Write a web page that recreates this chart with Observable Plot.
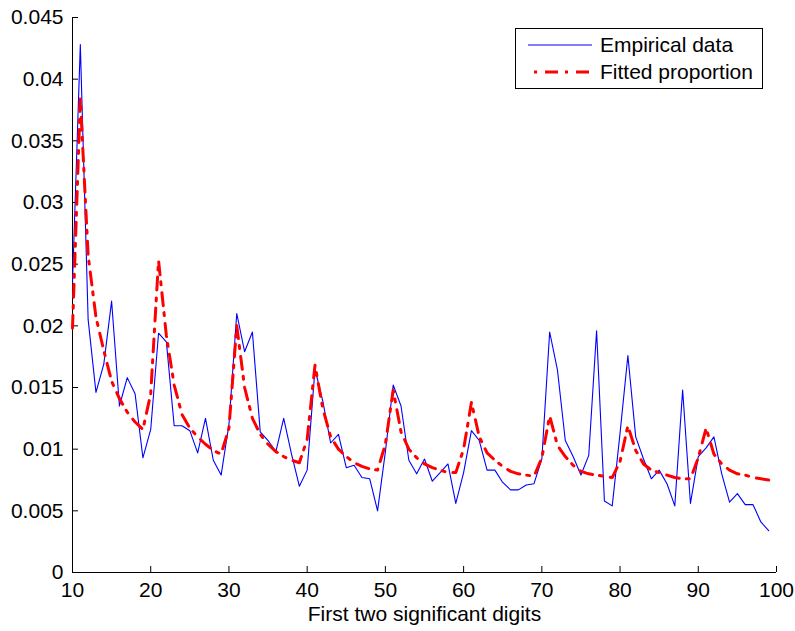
<!DOCTYPE html>
<html><head><meta charset="utf-8">
<script src="https://cdn.jsdelivr.net/npm/d3@7"></script>
<script src="https://cdn.jsdelivr.net/npm/@observablehq/plot@0.6"></script>
<style>
body{margin:0;background:#fff;}
#chart{width:795px;height:631px;}
</style>
</head><body><div id="chart"></div>
<script>
const digits = [10,11,12,13,14,15,16,17,18,19,20,21,22,23,24,25,26,27,28,29,30,31,32,33,34,35,36,37,38,39,40,41,42,43,44,45,46,47,48,49,50,51,52,53,54,55,56,57,58,59,60,61,62,63,64,65,66,67,68,69,70,71,72,73,74,75,76,77,78,79,80,81,82,83,84,85,86,87,88,89,90,91,92,93,94,95,96,97,98,99];
const empirical = [
0.0235,0.0428,0.0205,0.0146,0.0169,0.0220,0.0135,0.0158,0.0145,0.0093,
0.0116,0.0194,0.0187,0.0119,0.0119,0.0115,0.0097,0.0125,0.0091,0.0079,
0.0120,0.0210,0.0179,0.0195,0.0114,0.0107,0.0098,0.0125,0.0096,0.0070,
0.0083,0.0165,0.0139,0.0105,0.0112,0.0085,0.0087,0.0077,0.0076,0.0050,
0.0098,0.0152,0.0135,0.0091,0.0080,0.0092,0.0074,0.0081,0.0088,0.0056,
0.0081,0.0115,0.0107,0.0083,0.0083,0.0073,0.0067,0.0067,0.0071,0.0072,
0.0092,0.0195,0.0164,0.0107,0.0094,0.0079,0.0095,0.0196,0.0058,0.0054,
0.0113,0.0176,0.0110,0.0092,0.0076,0.0083,0.0072,0.0054,0.0148,0.0056,
0.0094,0.0101,0.0110,0.0080,0.0057,0.0064,0.0055,0.0055,0.0041,0.0034];
const fitted = [
0.0198,0.0384,0.0257,0.0207,0.0180,0.0155,0.0141,0.0130,0.0122,0.0116,
0.0145,0.0253,0.0192,0.0152,0.0128,0.0117,0.0110,0.0104,0.0099,0.0096,
0.0117,0.0200,0.0150,0.0125,0.0112,0.0104,0.0098,0.0094,0.0091,0.0089,
0.0108,0.0168,0.0133,0.0110,0.0100,0.0094,0.0089,0.0086,0.0084,0.0083,
0.0104,0.0148,0.0114,0.0100,0.0093,0.0088,0.0085,0.0083,0.0081,0.0081,
0.0100,0.0138,0.0110,0.0097,0.0091,0.0086,0.0082,0.0080,0.0079,0.0078,
0.0093,0.0127,0.0103,0.0094,0.0087,0.0082,0.0080,0.0079,0.0078,0.0077,
0.0090,0.0119,0.0099,0.0088,0.0083,0.0081,0.0079,0.0077,0.0076,0.0076,
0.0093,0.0117,0.0096,0.0088,0.0083,0.0080,0.0079,0.0077,0.0076,0.0075];
const xTicks = [10,20,30,40,50,60,70,80,90,100];
const yTicks = [0,0.005,0.01,0.015,0.02,0.025,0.03,0.035,0.04,0.045];
const xDomain = [10,100];
const yDomain = [0,0.045];
const seriesNames = ["Empirical data","Fitted proportion"];
const seriesColors = ["#0000ff","#ff0000"];
const xLabel = "First two significant digits";
const dash = "13,7,3,8";

const W = 795, H = 631, mL = 72, mR = 19, mT = 17, mB = 59;
const plotW = W - mL - mR, plotH = H - mT - mB;
const tickLen = 6;
const FONT = "'Liberation Sans', Arial, Helvetica, sans-serif";

const rows = digits.map((d,i)=>({digit:d, empirical:empirical[i], fitted:fitted[i]}));
const fmt = d => String(+d.toFixed(3));

const plot = Plot.plot({
  width: W, height: H,
  marginLeft: mL, marginRight: mR, marginTop: mT, marginBottom: mB,
  style: {fontFamily: FONT, fontSize: "21px", background: "white", color: "black", overflow: "visible"},
  x: {domain: xDomain, ticks: xTicks},
  y: {domain: yDomain, ticks: yTicks},
  marks: [
    Plot.axisY(yTicks, {tickSize: 0, tickPadding: 9, tickFormat: fmt, label: null}),
    Plot.axisX(xTicks, {tickSize: 0, tickPadding: 10, tickFormat: d => String(d), label: xLabel, labelAnchor: "center", labelOffset: 48, labelArrow: "none"}),
    Plot.tickY(yTicks, {y: d => d, stroke: "black", strokeWidth: 1, insetRight: plotW - tickLen}),
    Plot.tickX(xTicks, {x: d => d, stroke: "black", strokeWidth: 1, insetTop: plotH - tickLen}),
    Plot.ruleX([xDomain[0]], {stroke: "black", strokeWidth: 1}),
    Plot.ruleY([yDomain[0]], {stroke: "black", strokeWidth: 1}),
    Plot.line(rows, {x: "digit", y: "empirical", stroke: seriesColors[0], strokeWidth: 1.1}),
    Plot.line(rows, {x: "digit", y: "fitted", stroke: seriesColors[1], strokeWidth: 3, strokeDasharray: dash})
  ]
});
document.getElementById("chart").appendChild(plot);

// legend inside the plot frame
const svg = d3.select(plot);
const lg = svg.append("g").attr("font-family", FONT).attr("font-size", 21).attr("text-anchor", "start");
lg.append("rect").attr("x", 515.5).attr("y", 28.5).attr("width", 247).attr("height", 60)
  .attr("fill", "white").attr("stroke", "black").attr("stroke-width", 1);
seriesNames.forEach((name, i) => {
  const cy = 45 + i * 27;
  lg.append("line").attr("x1", 528).attr("x2", 592).attr("y1", cy).attr("y2", cy)
    .attr("stroke", seriesColors[i]).attr("stroke-width", i ? 3 : 1)
    .attr("stroke-dasharray", i ? dash : null).attr("stroke-dashoffset", i ? -17 : null);
  lg.append("text").attr("x", 600).attr("y", cy).attr("dy", "0.35em").attr("text-anchor", "start").attr("fill", "black").text(name);
});
</script>
</body></html>
